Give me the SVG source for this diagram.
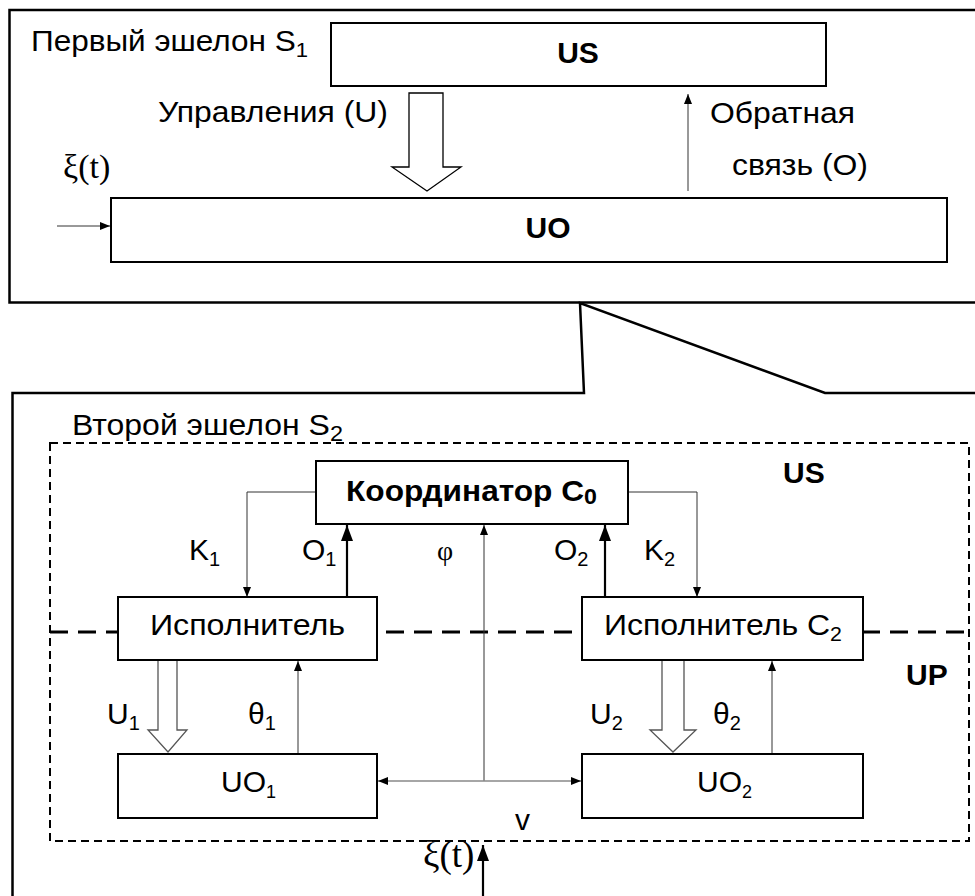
<svg xmlns="http://www.w3.org/2000/svg" width="975" height="896" viewBox="0 0 975 896">
  <style>
    .t { font-family: "Liberation Sans", Arial, sans-serif; font-size: 30px; fill: #000; }
    .b { font-weight: bold; }
    .s { font-family: "Liberation Serif", "Times New Roman", serif; fill: #000; }
    .box { fill: #fff; stroke: #000; stroke-width: 2; }
    .frame { fill: none; stroke: #000; stroke-width: 2.5; }
    .thin { fill: none; stroke: #333; stroke-width: 1; }
    .gray { fill: none; stroke: #888; stroke-width: 1.5; }
    .thick { fill: none; stroke: #000; stroke-width: 2.2; }
    .hollow { fill: #fff; stroke: #000; stroke-width: 1.3; }
    .hollow2 { fill: #fff; stroke: #555; stroke-width: 1.3; }
  </style>
  <defs>
    <marker id="tip" markerUnits="userSpaceOnUse" markerWidth="10" markerHeight="8" refX="10" refY="4" orient="auto">
      <path d="M0,0 L10,4 L0,8 z" fill="#000"/>
    </marker>
    <marker id="tipBig" markerUnits="userSpaceOnUse" markerWidth="16" markerHeight="12" refX="16" refY="6" orient="auto">
      <path d="M0,0 L16,6 L0,12 z" fill="#000"/>
    </marker>
  </defs>

  <rect width="975" height="896" fill="#fff"/>

  <!-- first echelon frame, zoom lines and second echelon frame -->
  <g id="frames">
    <path class="frame" d="M980,10 H9.5 V302.5 H980"/>
    <path class="frame" d="M12.5,900 V393 H584 L580,303 L825,393 H980"/>
    <rect x="50" y="443" width="919" height="398" fill="none" stroke="#000" stroke-width="2" stroke-dasharray="8 5"/>
    <line x1="50" y1="632" x2="969" y2="632" stroke="#000" stroke-width="3.2" stroke-dasharray="18 10"/>
  </g>

  <!-- connectors -->
  <g id="connectors">
    <polygon class="hollow" points="409,93 443,93 443,167 461,167 427,191 392,167 409,167"/>
    <line class="thin" x1="688" y1="191" x2="688" y2="94" marker-end="url(#tip)"/>
    <line class="thin" stroke="#000" x1="57" y1="226" x2="110" y2="226" marker-end="url(#tip)"/>

    <polyline class="thin" points="316,492 247,492 247,597" marker-end="url(#tip)"/>
    <polyline class="thin" points="628,492 697,492 697,597" marker-end="url(#tip)"/>
    <line class="thick" x1="347" y1="597" x2="347" y2="525" marker-end="url(#tipBig)"/>
    <line class="thick" x1="605" y1="597" x2="605" y2="525" marker-end="url(#tipBig)"/>
    <line class="thin" x1="484" y1="781" x2="484" y2="525" marker-end="url(#tip)"/>
    <line class="gray" x1="484" y1="781" x2="378" y2="781" marker-end="url(#tip)"/>
    <line class="gray" x1="484" y1="781" x2="581" y2="781" marker-end="url(#tip)"/>
    <polygon class="hollow2" points="158,660 177,660 177,730 187,730 168,752 148,730 158,730"/>
    <polygon class="hollow2" points="662,660 684,660 684,730 696,730 673,752 650,730 662,730"/>
    <line class="thin" x1="298" y1="754" x2="298" y2="661" marker-end="url(#tip)"/>
    <line class="thin" x1="772" y1="754" x2="772" y2="661" marker-end="url(#tip)"/>
    <line class="thick" x1="483" y1="896" x2="483" y2="845" marker-end="url(#tipBig)"/>
  </g>

  <!-- first echelon -->
  <text class="t" x="31" y="51" font-size="31" textLength="277" lengthAdjust="spacingAndGlyphs">Первый эшелон S<tspan font-size="21" dy="6">1</tspan></text>
  <g id="us1">
    <rect class="box" x="331" y="23" width="495" height="63"/>
    <text class="t b" x="578" y="63" text-anchor="middle" font-size="29">US</text>
  </g>
  <g id="uo">
    <rect class="box" x="111" y="198" width="836" height="64"/>
    <text class="t b" x="548" y="238" text-anchor="middle" font-size="29">UO</text>
  </g>
  <text class="t" x="158" y="122" font-size="31" textLength="230" lengthAdjust="spacingAndGlyphs">Управления (U)</text>
  <text class="t" x="710" y="123" font-size="31" textLength="145" lengthAdjust="spacingAndGlyphs">Обратная</text>
  <text class="t" x="732" y="175" font-size="31" textLength="136" lengthAdjust="spacingAndGlyphs">связь (О)</text>
  <text class="s" x="63" y="178" font-size="34">ξ(t)</text>

  <!-- second echelon -->
  <text class="t" x="72" y="435" font-size="33" textLength="271" lengthAdjust="spacingAndGlyphs">Второй эшелон S<tspan font-size="22" dy="6">2</tspan></text>
  <text class="t b" x="783" y="483" font-size="29">US</text>
  <text class="t b" x="906" y="685" font-size="29">UP</text>

  <g id="coordinator">
    <rect class="box" x="316" y="461" width="312" height="63"/>
    <text class="t b" x="346" y="501" font-size="28" textLength="251" lengthAdjust="spacingAndGlyphs">Координатор C<tspan font-size="22" dy="3">0</tspan></text>
  </g>
  <g id="executor1">
    <rect class="box" x="118" y="597" width="259" height="63"/>
    <text class="t" x="150" y="635" textLength="195" lengthAdjust="spacingAndGlyphs">Исполнитель</text>
  </g>
  <g id="executor2">
    <rect class="box" x="582" y="597" width="281" height="63"/>
    <text class="t" x="604" y="635" textLength="238" lengthAdjust="spacingAndGlyphs">Исполнитель C<tspan font-size="20" dy="6">2</tspan></text>
  </g>
  <g id="uo1">
    <rect class="box" x="118" y="754" width="259" height="64"/>
    <text class="t" x="221" y="792" font-size="27">UO<tspan font-size="18" dy="6">1</tspan></text>
  </g>
  <g id="uo2">
    <rect class="box" x="582" y="754" width="281" height="64"/>
    <text class="t" x="697" y="792" font-size="27">UO<tspan font-size="18" dy="6">2</tspan></text>
  </g>

  <text class="t" x="189" y="560">K<tspan font-size="20" dy="6">1</tspan></text>
  <text class="t" x="302" y="560">O<tspan font-size="20" dy="6">1</tspan></text>
  <text class="s" x="437" y="560" font-size="28">φ</text>
  <text class="t" x="554" y="560">O<tspan font-size="20" dy="6">2</tspan></text>
  <text class="t" x="644" y="560">K<tspan font-size="20" dy="6">2</tspan></text>
  <text class="t" x="107" y="724">U<tspan font-size="20" dy="6">1</tspan></text>
  <text class="t" x="248" y="724">θ<tspan font-size="20" dy="6">1</tspan></text>
  <text class="t" x="590" y="724">U<tspan font-size="20" dy="6">2</tspan></text>
  <text class="t" x="713" y="724">θ<tspan font-size="20" dy="6">2</tspan></text>
  <text class="t" x="515" y="830" font-size="24">v</text>
  <text class="s" x="423" y="867" font-size="37">ξ(t)</text>
</svg>
